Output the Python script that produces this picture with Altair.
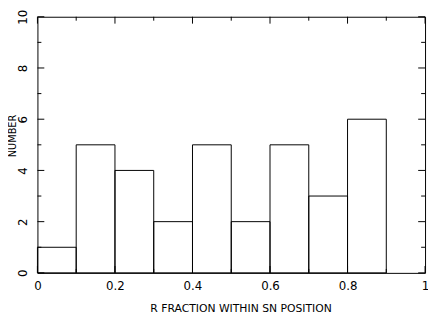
import altair as alt
import pandas as pd

# Histogram data
bin_start = [0.0, 0.1, 0.2, 0.3, 0.4, 0.5, 0.6, 0.7, 0.8]
bin_end = [0.1, 0.2, 0.3, 0.4, 0.5, 0.6, 0.7, 0.8, 0.9]
counts = [1, 5, 4, 2, 5, 2, 5, 3, 6]

x_major = [0, 0.2, 0.4, 0.6, 0.8, 1.0]
x_minor = [0.1, 0.3, 0.5, 0.7, 0.9]
y_major = [0, 2, 4, 6, 8, 10]
y_minor = [1, 3, 5, 7, 9]

W, H = 395, 261
MAJ, MIN = 7, 4
FONT = "DejaVu Sans"

bars_df = pd.DataFrame({"start": bin_start, "end": bin_end, "count": counts})
xmaj_df = pd.DataFrame({"v": x_major})
xmin_df = pd.DataFrame({"v": x_minor})
ymaj_df = pd.DataFrame({"v": y_major})
ymin_df = pd.DataFrame({"v": y_minor})

xscale = alt.Scale(domain=[0, 1], nice=False, zero=False)
yscale = alt.Scale(domain=[0, 10], nice=False, zero=False)

xaxis = alt.Axis(
    values=x_major, labelExpr="format(datum.value, '~g')", ticks=False, domain=False, grid=False,
    labelFont=FONT, labelFontSize=12, labelColor="black", labelPadding=8,
    labelBaseline="top", labelFlush=False, labelOverlap=False,
    title="R FRACTION WITHIN SN POSITION", titleFont=FONT, titleFontSize=11,
    titleFontWeight="normal", titleColor="black",
    titleX=207, titleY=39, titleBaseline="alphabetic", titleAlign="center",
)
yaxis = alt.Axis(
    values=y_major, format="d", ticks=False, domain=False, grid=False,
    labelFont=FONT, labelFontSize=12, labelColor="black", labelPadding=11,
    labelAngle=270, labelAlign="center", labelBaseline="alphabetic",
    labelFlush=False, labelOverlap=False,
    title="NUMBER", titleFont=FONT, titleFontSize=10, titleFontWeight="normal",
    titleColor="black", titleAngle=270, titleX=-22, titleY=121,
    titleBaseline="alphabetic", titleAlign="center",
)

bars = alt.Chart(bars_df).mark_rect(
    fill="white", fillOpacity=0, stroke="black", strokeWidth=1
).encode(
    x=alt.X("start:Q", scale=xscale, axis=xaxis),
    x2="end:Q",
    y=alt.Y("count:Q", scale=yscale, axis=yaxis),
    y2=alt.datum(0),
)

def xticks(df, length):
    bottom = alt.Chart(df).mark_rule(color="black", strokeWidth=1).encode(
        x=alt.X("v:Q", scale=xscale), y=alt.value(H), y2=alt.value(H - length))
    top = alt.Chart(df).mark_rule(color="black", strokeWidth=1).encode(
        x=alt.X("v:Q", scale=xscale), y=alt.value(0), y2=alt.value(length))
    return [bottom, top]

def yticks(df, length):
    left = alt.Chart(df).mark_rule(color="black", strokeWidth=1).encode(
        y=alt.Y("v:Q", scale=yscale), x=alt.value(0), x2=alt.value(length))
    right = alt.Chart(df).mark_rule(color="black", strokeWidth=1).encode(
        y=alt.Y("v:Q", scale=yscale), x=alt.value(W), x2=alt.value(W - length))
    return [left, right]

layers = [bars] + xticks(xmaj_df, MAJ) + xticks(xmin_df, MIN) + yticks(ymaj_df, MAJ) + yticks(ymin_df, MIN)

chart = alt.layer(*layers).properties(
    width=W, height=H,
    autosize=alt.AutoSizeParams(type="none"),
    padding={"left": 30, "top": 6, "right": 3, "bottom": 40},
    background="white",
).configure_view(stroke="black", strokeWidth=1)

chart.save("out.html", embed_options={"renderer": "svg", "actions": False})
